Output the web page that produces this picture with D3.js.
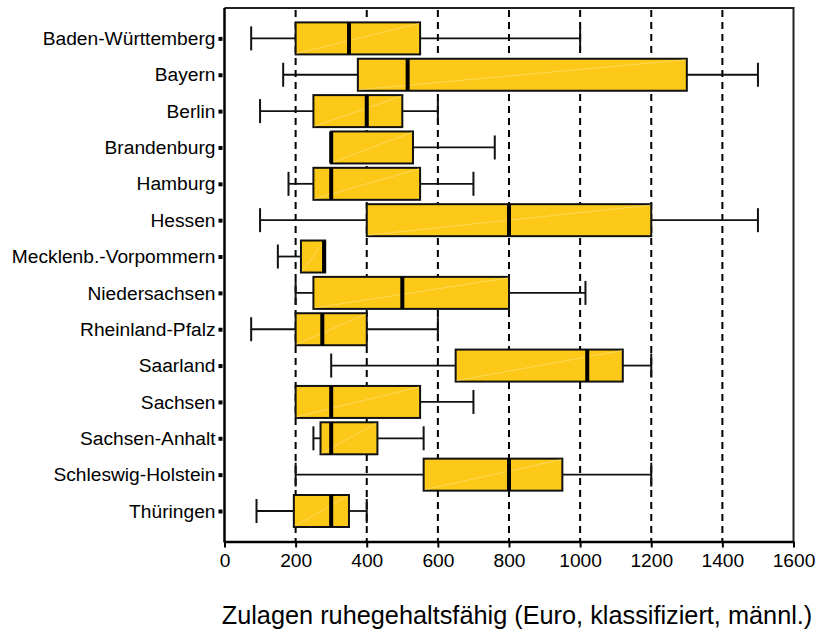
<!DOCTYPE html>
<html>
<head>
<meta charset="utf-8">
<script src="https://cdn.jsdelivr.net/npm/d3@7"></script>
<style>
  html, body { margin: 0; padding: 0; background: #fff; }
  svg { display: block; }
  text { font-family: "Liberation Sans", Arial, sans-serif; fill: #000; }
</style>
</head>
<body>
<svg id="chart" width="816" height="636"></svg>
<script>
const categories = ["Baden-Württemberg","Bayern","Berlin","Brandenburg","Hamburg","Hessen",
  "Mecklenb.-Vorpommern","Niedersachsen","Rheinland-Pfalz","Saarland","Sachsen",
  "Sachsen-Anhalt","Schleswig-Holstein","Thüringen"];
const whiskerLow  = [75, 165, 100, 300, 180, 100, 150, 200, 75, 300, 200, 250, 200, 90];
const q1          = [200, 375, 250, 300, 250, 400, 215, 250, 200, 650, 200, 270, 560, 195];
const medians     = [350, 515, 400, 300, 300, 800, 280, 500, 275, 1020, 300, 300, 800, 300];
const q3          = [550, 1300, 500, 530, 550, 1200, 283, 800, 400, 1120, 550, 430, 950, 350];
const whiskerHigh = [1000, 1500, 600, 760, 700, 1500, 283, 1015, 600, 1200, 700, 560, 1200, 400];
const xTicks = [0, 200, 400, 600, 800, 1000, 1200, 1400, 1600];
const xTitle = "Zulagen ruhegehaltsfähig (Euro, klassifiziert, männl.)";

(function () {
const svg = d3.select("#chart");
const pL = 224.5, pR = 793.5, pT = 8, pB = 541.5;
const FONT = '"Liberation Sans", Arial, sans-serif';
const x = d3.scaleLinear().domain([0, 1600]).range([pL, pR]);
const y = d3.scalePoint().domain(categories).range([38.4, 511]);
const boxH = 16, capH = 12;

const data = categories.map((c, i) => ({
  c, lo: whiskerLow[i], q1: q1[i], med: medians[i], q3: q3[i], hi: whiskerHigh[i]
}));

// frame (top & right)
svg.append("path")
  .attr("d", `M${pL},${pT}H${pR}V${pB}`)
  .attr("fill", "none").attr("stroke", "#222").attr("stroke-width", 2);

// dashed gridlines
svg.append("g").selectAll("line")
  .data(xTicks.filter(t => t > 0 && t < 1600))
  .join("line")
  .attr("x1", d => x(d)).attr("x2", d => x(d))
  .attr("y1", pT + 2).attr("y2", pB)
  .attr("stroke", "#000").attr("stroke-width", 2)
  .attr("stroke-dasharray", "7,5");

const g = svg.append("g");
const row = g.selectAll("g.row").data(data).join("g").attr("class", "row");

// whiskers
row.filter(d => d.lo < d.q1).append("line")
  .attr("x1", d => x(d.lo)).attr("x2", d => x(d.q1))
  .attr("y1", d => y(d.c)).attr("y2", d => y(d.c))
  .attr("stroke", "#111").attr("stroke-width", 1.8);
row.filter(d => d.lo < d.q1).append("line")
  .attr("x1", d => x(d.lo)).attr("x2", d => x(d.lo))
  .attr("y1", d => y(d.c) - capH).attr("y2", d => y(d.c) + capH)
  .attr("stroke", "#111").attr("stroke-width", 2);
row.filter(d => d.hi > d.q3).append("line")
  .attr("x1", d => x(d.q3)).attr("x2", d => x(d.hi))
  .attr("y1", d => y(d.c)).attr("y2", d => y(d.c))
  .attr("stroke", "#111").attr("stroke-width", 1.8);
row.filter(d => d.hi > d.q3).append("line")
  .attr("x1", d => x(d.hi)).attr("x2", d => x(d.hi))
  .attr("y1", d => y(d.c) - capH).attr("y2", d => y(d.c) + capH)
  .attr("stroke", "#111").attr("stroke-width", 2);

// boxes
row.append("rect")
  .attr("x", d => x(d.q1)).attr("width", d => x(d.q3) - x(d.q1))
  .attr("y", d => y(d.c) - boxH).attr("height", boxH * 2)
  .attr("fill", "#FCC918").attr("stroke", "#111").attr("stroke-width", 2);
// faint diagonal highlight
row.append("line")
  .attr("x1", d => x(d.q1) + 1).attr("y1", d => y(d.c) + boxH - 1)
  .attr("x2", d => x(d.q3) - 1).attr("y2", d => y(d.c) - boxH + 1)
  .attr("stroke", "#FDE591").attr("stroke-width", 0.7).attr("opacity", 0.8);
// medians
row.append("line")
  .attr("x1", d => x(d.med)).attr("x2", d => x(d.med))
  .attr("y1", d => y(d.c) - boxH).attr("y2", d => y(d.c) + boxH)
  .attr("stroke", "#000").attr("stroke-width", 4);

// x axis
const xAxis = d3.axisBottom(x).tickValues(xTicks).tickFormat(d3.format("d"))
  .tickSize(6).tickPadding(6).tickSizeOuter(0);
const gx = svg.append("g").attr("transform", `translate(0,${pB})`).call(xAxis);
gx.select(".domain").attr("stroke", "#000").attr("stroke-width", 2.5);
gx.selectAll(".tick line").attr("stroke", "#000").attr("stroke-width", 2);
gx.selectAll(".tick text").attr("font-size", 19.2)
  .style("font-family", FONT).attr("fill", "#000");

// y axis
const yAxis = d3.axisLeft(y).tickSize(4).tickPadding(3).tickSizeOuter(0);
const gy = svg.append("g").attr("transform", `translate(${pL - 2},0)`).call(yAxis);
gy.select(".domain").remove();
svg.append("line").attr("x1", pL).attr("x2", pL).attr("y1", pT).attr("y2", pB + 1)
  .attr("stroke", "#000").attr("stroke-width", 2.5);
gy.selectAll(".tick line").attr("stroke", "#000").attr("stroke-width", 4);
gy.selectAll(".tick text").attr("font-size", 19.2)
  .style("font-family", FONT).attr("fill", "#000");

// axis title
svg.append("text")
  .attr("x", 517).attr("y", 624)
  .attr("text-anchor", "middle").attr("font-size", 25.3)
  .style("font-family", FONT)
  .text(xTitle);
})();
</script>
</body>
</html>
